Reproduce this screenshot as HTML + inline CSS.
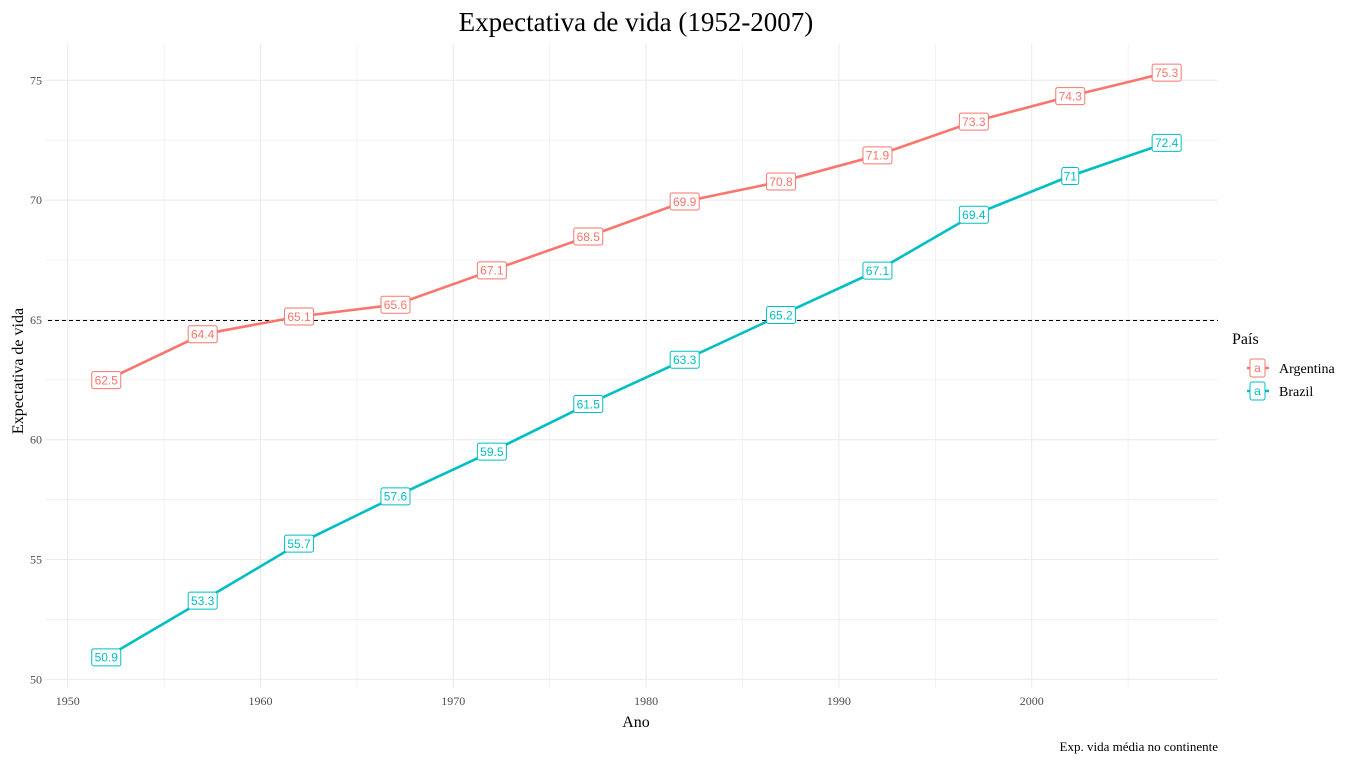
<!DOCTYPE html>
<html><head><meta charset="utf-8"><style>
body{margin:0;background:#fff;}
svg text{font-family:"Liberation Serif",serif;}
.lab{font-family:"Liberation Sans",sans-serif;font-size:12px;}
</style></head><body>
<svg width="1356" height="763" xmlns="http://www.w3.org/2000/svg">
<g id="grid"></g>
<g id="axes"></g>
<line x1="48" x2="1218" y1="320.5" y2="320.5" stroke="#000" stroke-width="1" stroke-dasharray="4,3"/>
<g id="series"></g>
<text x="636" y="31" text-anchor="middle" font-size="27">Expectativa de vida (1952-2007)</text>
<text x="636" y="727" text-anchor="middle" font-size="16">Ano</text>
<text transform="translate(23,371) rotate(-90)" text-anchor="middle" font-size="16">Expectativa de vida</text>
<text x="1218" y="751" text-anchor="end" font-size="13">Exp. vida média no continente</text>
<g>
<text x="1232" y="344" font-size="16">País</text>
<g>
<line x1="1247" x2="1269" y1="368" y2="368" stroke="#F8766D" stroke-width="2.5"/>
<rect x="1250" y="359" width="15" height="18" rx="2" fill="#fff" stroke="#F8766D"/>
<text x="1257.5" y="372" text-anchor="middle" class="lab" fill="#F8766D">a</text>
<text x="1279" y="373" font-size="14">Argentina</text></g>
<g>
<line x1="1247" x2="1269" y1="391" y2="391" stroke="#00BFC4" stroke-width="2.5"/>
<rect x="1250" y="382" width="15" height="18" rx="2" fill="#fff" stroke="#00BFC4"/>
<text x="1257.5" y="395" text-anchor="middle" class="lab" fill="#00BFC4">a</text>
<text x="1279" y="396" font-size="14">Brazil</text></g>
</g>
</svg>
<script>
const years=[1952,1957,1962,1967,1972,1977,1982,1987,1992,1997,2002,2007];
const argentina=[62.485,64.399,65.142,65.634,67.065,68.481,69.942,70.774,71.868,73.275,74.34,75.32];
const brazil=[50.917,53.285,55.665,57.632,59.504,61.489,63.336,65.205,67.057,69.388,71.006,72.39];
const xTicks=[1950,1960,1970,1980,1990,2000];
const yTicks=[50,55,60,65,70,75];
const NS="http://www.w3.org/2000/svg";
const xs=v=>67.7+(v-1950)*19.28;
const ys=v=>679.3-(v-50)*23.96;
function mk(t,a,p){const e=document.createElementNS(NS,t);for(const k in a)e.setAttribute(k,a[k]);p.appendChild(e);return e;}
const grid=document.getElementById('grid'),axes=document.getElementById('axes'),series=document.getElementById('series');
for(let v=1950;v<=2005;v+=5){const l=mk('line',{x1:xs(v),x2:xs(v),y1:44,y2:688,stroke:'#ebebeb','stroke-width':v%10?0.6:1.1},grid);

}
for(let v=50;v<=75;v+=2.5){const l=mk('line',{x1:45,x2:1218,y1:ys(v),y2:ys(v),stroke:'#ebebeb','stroke-width':v%5?0.6:1.1},grid);

}
xTicks.forEach(v=>{const t=mk('text',{x:xs(v),y:705,'text-anchor':'middle','font-size':12,fill:'#4d4d4d'},axes);t.textContent=v;

});
yTicks.forEach(v=>{const t=mk('text',{x:42,y:ys(v)+4,'text-anchor':'end','font-size':12,fill:'#4d4d4d'},axes);t.textContent=v;

});
function draw(vals,col,name){
const g=mk('g',{},series);


const p=mk('polyline',{points:vals.map((v,i)=>xs(years[i])+','+ys(v)).join(' '),fill:'none',stroke:col,'stroke-width':2.6},g);


vals.forEach((v,i)=>{
const s=String(Math.round(v*10)/10);
const w=s.length*6+5;
const cx=xs(years[i]),cy=ys(v);
const r=mk('rect',{x:cx-w/2,y:cy-8.5,width:w,height:17,rx:2,fill:'#fff',stroke:col,'stroke-width':1},g);


const t=mk('text',{x:cx,y:cy+4.3,'text-anchor':'middle',class:'lab',fill:col},g);t.textContent=s;


});}
draw(argentina,'#F8766D','argentina');
draw(brazil,'#00BFC4','brazil');
</script>
</body></html>
